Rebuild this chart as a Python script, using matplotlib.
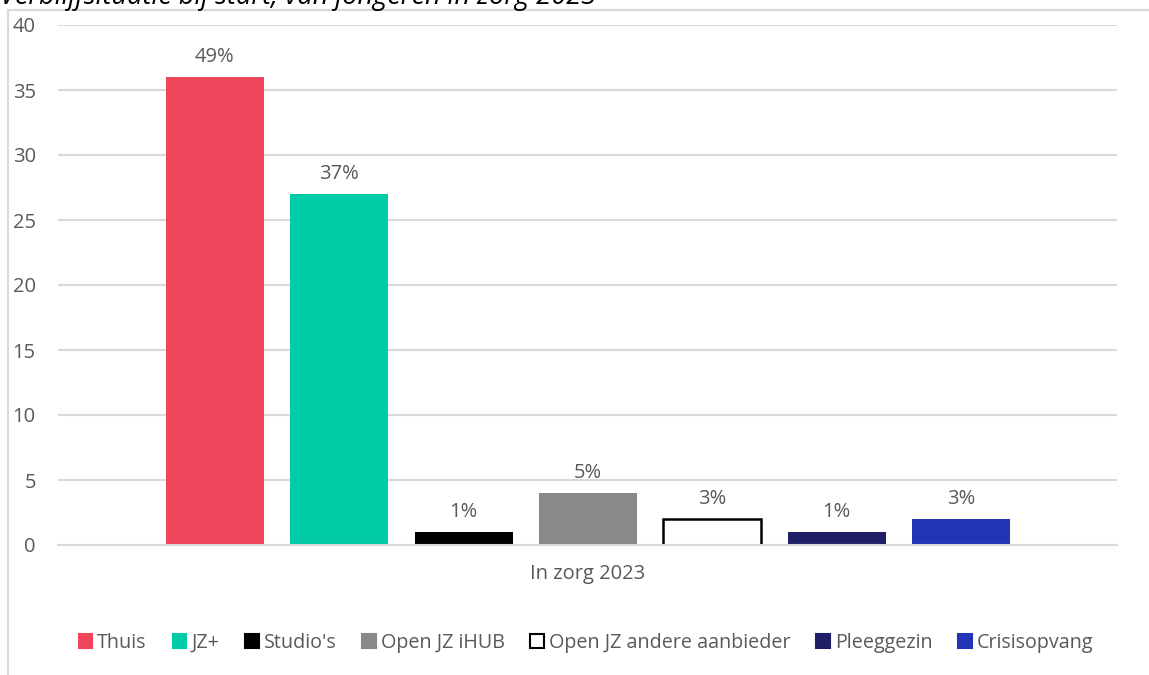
import matplotlib.pyplot as plt
from matplotlib.lines import Line2D
from matplotlib.patches import Patch

plt.rcParams['font.family'] = ['Open Sans', 'DejaVu Sans']

################## Data ##################
title = 'Verblijfsituatie bij start, van jongeren in zorg 2023'
category = 'In zorg 2023'
series = ['Thuis', 'JZ+', "Studio's", 'Open JZ iHUB', 'Open JZ andere aanbieder',
          'Pleeggezin', 'Crisisopvang']
counts = [36, 27, 1, 4, 2, 1, 2]
pct_labels = ['49%', '37%', '1%', '5%', '3%', '1%', '3%']
colors = ['#EF465C', '#00CBA7', '#000000', '#898989', '#FFFFFF', '#1F1F68', '#2036B6']
edges = ['none', 'none', 'none', 'none', '#000000', 'none', 'none']

text_col = '#595959'
grid_col = '#D9D9D9'

################## Plot ##################
W, H = 1149, 675
fig = plt.figure(figsize=(W / 100, H / 100), dpi=100)
ax = fig.add_axes([58 / W, 1 - 545 / H, (1117 - 58) / W, (545 - 25) / H])

xs = list(range(len(series)))
for x, v, c, e, lab in zip(xs, counts, colors, edges, pct_labels):
    b = ax.bar(x, v, width=0.787, color=c, edgecolor=e, linewidth=1.8 if e != 'none' else 0,
               zorder=3)
    ax.bar_label(b, labels=[lab], padding=7, color=text_col, fontsize=14.5)

ax.set_xlim(-1.261, 7.253)
ax.set_ylim(0, 40)
ax.set_yticks(range(0, 41, 5))
ax.yaxis.grid(True, color=grid_col, linewidth=1.5, zorder=0)
ax.set_axisbelow(True)
ax.set_xticks([3])
ax.set_xticklabels([category])
ax.tick_params(axis='x', length=0, pad=14, labelsize=14.5, labelcolor=text_col)
ax.tick_params(axis='y', length=0, pad=16, labelsize=14.5, labelcolor=text_col)
for s in ['top', 'right', 'left']:
    ax.spines[s].set_visible(False)
ax.spines['bottom'].set_color(grid_col)
ax.spines['bottom'].set_linewidth(1.5)
ax.spines['bottom'].set_zorder(4)

# chart border (cropped)
fig.add_artist(Line2D([8 / W, 8 / W], [0, 1 - 10 / H], color=grid_col, linewidth=1.5))
fig.add_artist(Line2D([8 / W, 1], [1 - 10 / H, 1 - 10 / H], color=grid_col, linewidth=1.5))

# title, cut off at the top
fig.text(0, 1 - 4 / H, title, fontsize=19.5, style='italic', color='#000000', va='baseline',
         ha='left')

handles = [Patch(facecolor=c, edgecolor=(e if e != 'none' else c), linewidth=1.5)
           for c, e in zip(colors, edges)]
fig.legend(handles, series, loc='center', bbox_to_anchor=(586 / W, 1 - 643 / H), ncol=7,
           frameon=False, fontsize=14.2, labelcolor=text_col, handlelength=0.7,
           handleheight=0.7, handletextpad=0.25, columnspacing=1.3)

fig.savefig('out.png', dpi=100)
